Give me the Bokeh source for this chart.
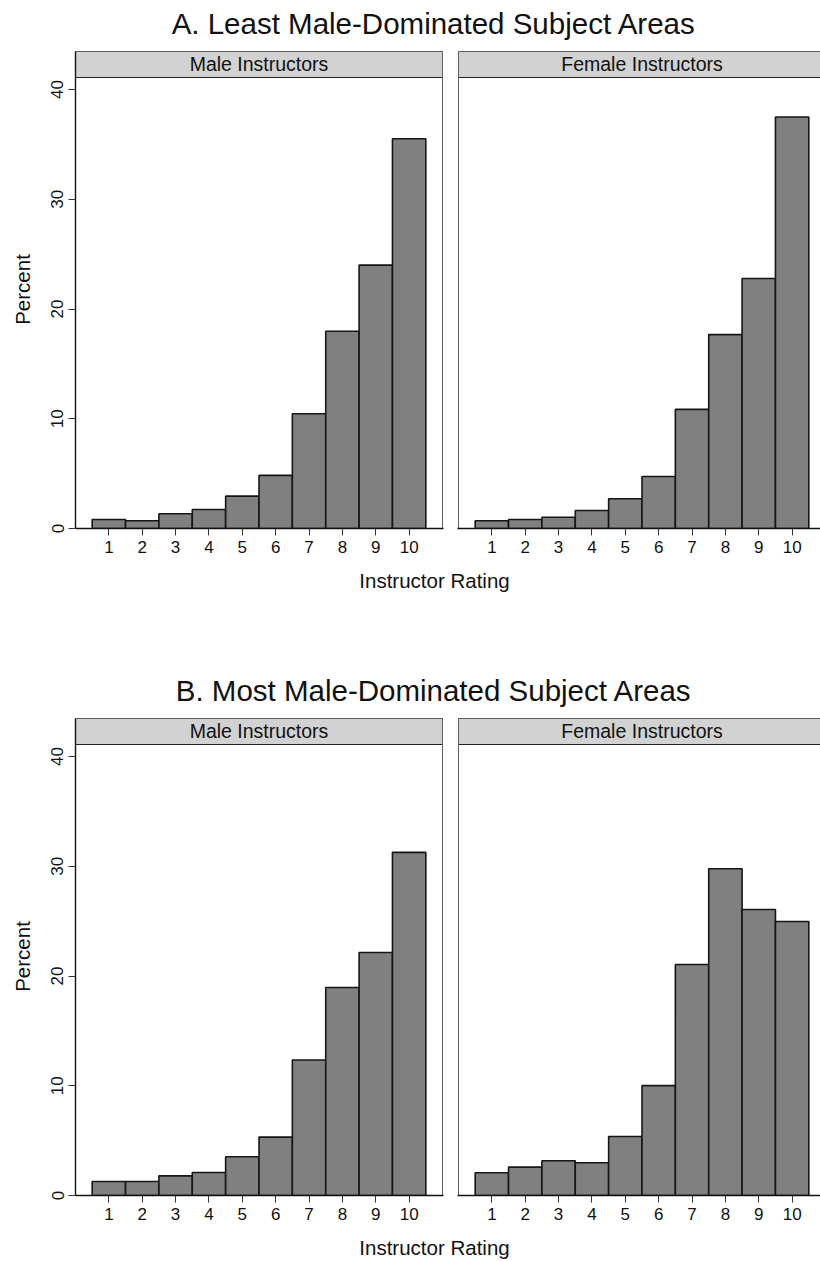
from bokeh.plotting import figure
from bokeh.models import Range1d, FixedTicker, Label, ColumnDataSource
from bokeh.layouts import column, row
from bokeh.embed import file_html
from bokeh.resources import INLINE

# ---------------- data ----------------
ratings = [1, 2, 3, 4, 5, 6, 7, 8, 9, 10]
least_male = [0.82, 0.70, 1.34, 1.73, 2.95, 4.84, 10.46, 17.97, 24.00, 35.52]
least_female = [0.70, 0.82, 1.03, 1.64, 2.71, 4.74, 10.86, 17.67, 22.78, 37.50]
most_male = [1.28, 1.28, 1.79, 2.10, 3.53, 5.32, 12.35, 18.95, 22.14, 31.27]
most_female = [2.07, 2.59, 3.16, 2.98, 5.38, 10.01, 21.05, 29.78, 26.07, 24.97]
block_titles = ["A. Least Male-Dominated Subject Areas", "B. Most Male-Dominated Subject Areas"]
strip_labels = ["Male Instructors", "Female Instructors"]
y_ticks = [0, 10, 20, 30, 40]
x_label = "Instructor Rating"
y_label = "Percent"

# ---------------- styling / layout constants ----------------
FONT = "Liberation Sans"
TXT = "#111111"
BAR_FILL = "#808080"
STRIP_FILL = "#d2d2d2"
BORDER = "#5e5e5e"
BASE_FIX = 0.36  # em offset compensating the label baseline placement

Y_PLOT_TOP = 41.1
FRAME_H = 478
STRIP_PX = 26
PPU_Y = (FRAME_H - STRIP_PX - 1) / Y_PLOT_TOP
Y_TOP = FRAME_H / PPU_Y
Y_STRIP_TOP = Y_PLOT_TOP + STRIP_PX / PPU_Y
PPU_X = 367 / 11.0
X_FULL = 11
BOTTOM_PX = 34
STRIP_FS = 19.5


def panel(values, strip, is_left):
    if is_left:
        width, mbl, mbr, x0 = 450, 75, 7, 0.0
    else:
        width, mbl, mbr, x0 = 370, 7, 0, -1.0 / PPU_X
    frame_w = width - mbl - mbr
    x1 = x0 + frame_w / PPU_X
    p = figure(width=width, height=FRAME_H + BOTTOM_PX,
               x_range=Range1d(x0, x1), y_range=Range1d(0, Y_TOP),
               output_backend="svg", toolbar_location=None, tools="",
               min_border_left=mbl, min_border_right=mbr,
               min_border_top=0, min_border_bottom=BOTTOM_PX,
               y_axis_location="left" if is_left else None)
    p.outline_line_color = None
    p.grid.visible = False
    p.background_fill_color = "white"
    p.border_fill_color = "white"

    src = ColumnDataSource(dict(x=ratings, top=values))
    p.vbar(x="x", top="top", bottom=0, width=1, source=src,
           fill_color=BAR_FILL, line_color="#161616", line_width=1.6)

    # strip (facet header)
    p.quad(left=[0], right=[X_FULL], bottom=[Y_PLOT_TOP], top=[Y_STRIP_TOP],
           fill_color=STRIP_FILL, line_color=BORDER, line_width=1)
    p.segment(x0=[0], y0=[Y_PLOT_TOP], x1=[X_FULL], y1=[Y_PLOT_TOP],
              line_color="#222222", line_width=1.2)
    # panel border
    bx = X_FULL if is_left else 0
    p.segment(x0=[bx], y0=[0], x1=[bx], y1=[Y_STRIP_TOP], line_color=BORDER, line_width=1)

    p.add_layout(Label(x=X_FULL / 2, y=Y_PLOT_TOP + (6.6 + BASE_FIX * STRIP_FS) / PPU_Y,
                       text=strip, text_align="center", text_baseline="alphabetic",
                       text_font=FONT, text_font_size=f"{STRIP_FS}px", text_color=TXT))

    xa = p.xaxis[0]
    xa.ticker = FixedTicker(ticks=ratings)
    xa.major_tick_out = 7
    xa.major_tick_in = 0
    xa.minor_tick_out = 0
    xa.minor_tick_in = 0
    xa.axis_line_color = "#111111"
    xa.axis_line_width = 1.4
    xa.major_tick_line_color = "#333333"
    xa.major_label_text_font = FONT
    xa.major_label_text_font_size = "17px"
    xa.major_label_text_color = TXT
    xa.major_label_standoff = 5

    if is_left:
        ya = p.yaxis[0]
        ya.ticker = FixedTicker(ticks=y_ticks)
        ya.bounds = (0, Y_STRIP_TOP)
        ya.major_tick_out = 7
        ya.major_tick_in = 0
        ya.minor_tick_out = 0
        ya.minor_tick_in = 0
        ya.axis_line_color = "#111111"
        ya.axis_line_width = 1.4
        ya.major_tick_line_color = "#333333"
        ya.major_label_orientation = "vertical"
        ya.major_label_text_font = FONT
        ya.major_label_text_font_size = "17px"
        ya.major_label_text_color = TXT
        ya.major_label_standoff = 5
        ya.axis_label = y_label
        ya.axis_label_text_font = FONT
        ya.axis_label_text_font_size = "20.5px"
        ya.axis_label_text_font_style = "normal"
        ya.axis_label_text_color = TXT
        ya.axis_label_standoff = 15
    return p


def text_fig(h, text, x, y_from_top, size_px):
    p = figure(width=820, height=h, x_range=Range1d(0, 820), y_range=Range1d(0, h),
               output_backend="svg", toolbar_location=None, tools="",
               min_border=0, x_axis_location=None, y_axis_location=None)
    p.outline_line_color = None
    p.grid.visible = False
    p.background_fill_color = "white"
    p.border_fill_color = "white"
    p.add_layout(Label(x=x, y=h - y_from_top + BASE_FIX * size_px, text=text,
                       text_align="center", text_baseline="alphabetic",
                       text_font=FONT, text_font_size=f"{size_px}px", text_color=TXT))
    return p


title_a = text_fig(50, block_titles[0], 433.5, 33.3, 29.5)
row_a = row(panel(least_male, strip_labels[0], True), panel(least_female, strip_labels[1], False))
lab_a = text_fig(105, x_label, 434, 25, 20.5)
title_b = text_fig(50, block_titles[1], 433.5, 33.3, 29.5)
row_b = row(panel(most_male, strip_labels[0], True), panel(most_female, strip_labels[1], False))
lab_b = text_fig(32, x_label, 434, 25, 20.5)

layout = column(title_a, row_a, lab_a, title_b, row_b, lab_b)

open("out.html", "w").write(file_html(layout, INLINE))
